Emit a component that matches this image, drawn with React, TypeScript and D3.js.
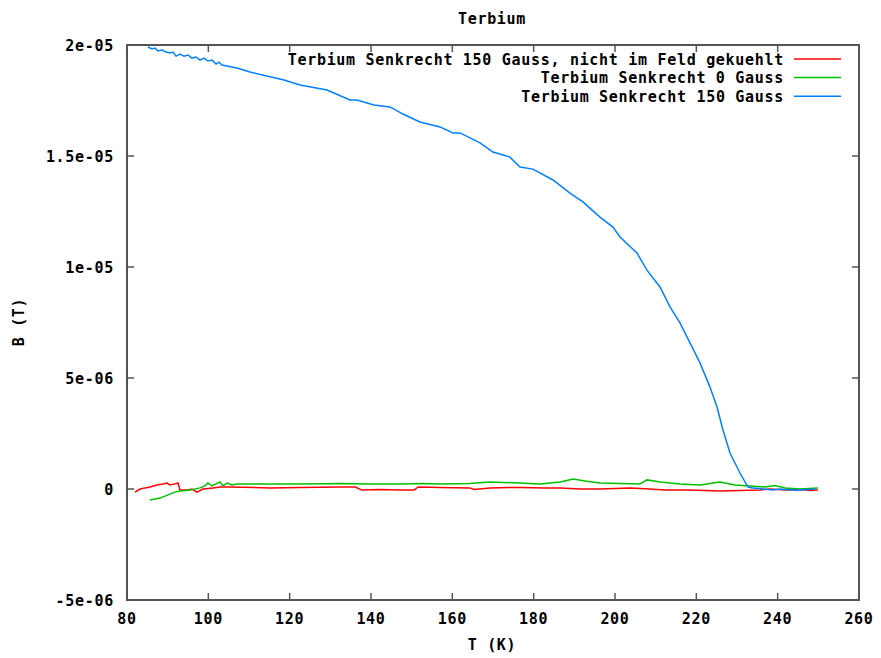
import React from "react";
import * as d3 from "d3";

const title = "Terbium";
const xLabel = "T (K)";
const yLabel = "B (T)";
const xTicks = [80, 100, 120, 140, 160, 180, 200, 220, 240, 260];
const yTicks = [-5e-6, 0, 5e-6, 1e-5, 1.5e-5, 2e-5];
const yTickLabels = ["-5e-06", "0", "5e-06", "1e-05", "1.5e-05", "2e-05"];

const seriesNames = [
  "Terbium Senkrecht 150 Gauss, nicht im Feld gekuehlt",
  "Terbium Senkrecht 0 Gauss",
  "Terbium Senkrecht 150 Gauss",
];
const seriesColors = ["#ff0000", "#00c000", "#0080ff"];

// values in units of 1e-6 T
const redT = [81.97, 83.2, 84.43, 85.66, 87.38, 88.85, 89.84, 90.57, 91.8, 92.54, 93.03, 94.75, 95.98, 97.21, 98.69, 101.15, 102.87, 105.33, 115.16, 122.5, 132.4, 136.1, 137.8, 142.2, 147.1, 150.6, 151.6, 157.0, 164.3, 165.3, 169.3, 176.6, 182.8, 186.5, 191.4, 196.3, 203.7, 208.6, 212.3, 218.4, 222.1, 225.8, 230.7, 235.6, 238.1, 241.8, 245.5, 247.9, 249.9];
const redB = [-0.14, 0.0, 0.05, 0.09, 0.18, 0.23, 0.27, 0.18, 0.23, 0.27, -0.05, -0.05, 0.0, -0.14, 0.0, 0.05, 0.09, 0.09, 0.05, 0.07, 0.09, 0.09, -0.05, -0.02, -0.05, -0.05, 0.09, 0.07, 0.05, -0.02, 0.05, 0.07, 0.05, 0.05, 0.0, 0.0, 0.05, 0.0, -0.05, -0.05, -0.07, -0.09, -0.07, -0.05, 0.0, -0.05, -0.02, -0.07, -0.05];

const greenT = [85.66, 86.88, 88.11, 89.34, 90.57, 91.8, 93.03, 95.49, 97.95, 99.18, 99.92, 100.9, 101.88, 102.87, 103.61, 104.59, 105.82, 107.05, 112.7, 122.54, 132.37, 139.75, 147.1, 152.0, 157.0, 164.3, 169.3, 176.6, 181.5, 186.5, 189.7, 192.6, 196.3, 201.2, 206.1, 207.9, 211.1, 216.0, 220.9, 225.8, 229.5, 233.2, 236.9, 239.3, 241.8, 245.5, 249.9];
const greenB = [-0.5, -0.45, -0.41, -0.32, -0.23, -0.14, -0.09, -0.05, 0.05, 0.14, 0.27, 0.14, 0.23, 0.32, 0.14, 0.27, 0.18, 0.23, 0.23, 0.23, 0.25, 0.23, 0.23, 0.25, 0.23, 0.25, 0.32, 0.27, 0.23, 0.32, 0.45, 0.36, 0.27, 0.25, 0.23, 0.41, 0.32, 0.23, 0.18, 0.32, 0.18, 0.14, 0.09, 0.16, 0.05, 0.0, 0.05];

const blueT = [85.16, 86.15, 86.88, 87.62, 88.61, 89.59, 90.57, 91.31, 92.05, 93.03, 94.02, 95.0, 95.98, 96.97, 97.95, 98.94, 99.92, 100.9, 101.88, 102.62, 103.36, 107.05, 110.24, 118.6, 122.54, 129.18, 134.83, 136.55, 140.73, 144.67, 147.86, 152.04, 156.96, 160.16, 161.88, 166.8, 169.99, 174.17, 176.63, 179.83, 184.75, 188.93, 192.12, 196.3, 199.5, 201.22, 205.4, 207.86, 211.06, 213.52, 215.98, 218.44, 220.9, 223.36, 225.08, 226.55, 228.27, 230.73, 232.7, 233.93, 236.4, 238.8, 240.56, 243.0, 245.5, 249.17];
const blueB = [19.91, 19.82, 19.86, 19.73, 19.77, 19.68, 19.64, 19.68, 19.5, 19.59, 19.5, 19.55, 19.41, 19.46, 19.32, 19.41, 19.28, 19.32, 19.14, 19.23, 19.1, 18.96, 18.78, 18.42, 18.2, 17.97, 17.52, 17.52, 17.3, 17.21, 16.89, 16.53, 16.31, 16.04, 16.04, 15.59, 15.18, 14.95, 14.5, 14.41, 13.92, 13.33, 12.93, 12.25, 11.8, 11.35, 10.63, 9.86, 9.1, 8.2, 7.48, 6.58, 5.68, 4.59, 3.69, 2.66, 1.62, 0.72, 0.09, 0.05, 0.0, -0.05, 0.0, -0.05, -0.05, 0.0];

const seriesT = [redT, greenT, blueT];
const seriesB = [redB, greenB, blueB];

const W = 881;
const H = 658;
const left = 127;
const right = 859;
const top = 45;
const bottom = 600;

const font = "'DejaVu Sans Mono', 'Liberation Mono', monospace";

export default function App() {
  const x = d3.scaleLinear().domain([80, 260]).range([left, right]);
  const y = d3.scaleLinear().domain([-5e-6, 2e-5]).range([bottom, top]);
  const line = d3
    .line<[number, number]>()
    .x((d) => x(d[0]))
    .y((d) => y(d[1] * 1e-6))
    .curve(d3.curveLinear);

  const textStyle: React.CSSProperties = {
    fontFamily: font,
    fontWeight: "bold",
    fontSize: 15,
    letterSpacing: 0.7,
  };
  const axisColor = "#555555";
  const tickLen = 7;

  return (
    <svg
      width={W}
      height={H}
      style={{ position: "absolute", left: 0, top: 0, background: "#fff" }}
    >
      <rect x={0} y={0} width={W} height={H} fill="#fff" />
      <defs>
        <clipPath id="plotclip">
          <rect x={left} y={top} width={right - left} height={bottom - top} />
        </clipPath>
      </defs>
      {xTicks.map((t, i) => (
        <g key={"xt" + i}>
          <line x1={x(t)} x2={x(t)} y1={bottom} y2={bottom - tickLen} stroke={axisColor} strokeWidth={1.5} />
          <line x1={x(t)} x2={x(t)} y1={top} y2={top + tickLen} stroke={axisColor} strokeWidth={1.5} />
          <text x={x(t)} y={623.5} textAnchor="middle" style={textStyle} fill="#000">
            {t}
          </text>
        </g>
      ))}
      {yTicks.map((t, i) => (
        <g key={"yt" + i}>
          <line x1={left} x2={left + tickLen} y1={y(t)} y2={y(t)} stroke={axisColor} strokeWidth={1.5} />
          <line x1={right} x2={right - tickLen} y1={y(t)} y2={y(t)} stroke={axisColor} strokeWidth={1.5} />
          <text x={114} y={y(t) + 5.5} textAnchor="end" style={textStyle} fill="#000">
            {yTickLabels[i]}
          </text>
        </g>
      ))}
      <g clipPath="url(#plotclip)">
        {seriesT.map((ts, si) => {
          const pts: [number, number][] = ts.map((t, k) => [t, seriesB[si][k]]);
          return (
            <path
              key={"s" + si}
              d={line(pts) || ""}
              fill="none"
              stroke={seriesColors[si]}
              strokeWidth={1.5}
              strokeLinejoin="miter"
            />
          );
        })}
      </g>
      <rect x={left} y={top} width={right - left} height={bottom - top} fill="none" stroke={axisColor} strokeWidth={2} />
      {seriesNames.map((n, i) => {
        const cy = 59 + i * 18.6;
        return (
          <g key={"lg" + i}>
            <text x={784} y={cy + 5.5} textAnchor="end" style={textStyle} fill="#000">
              {n}
            </text>
            <line x1={794} x2={841} y1={cy} y2={cy} stroke={seriesColors[i]} strokeWidth={1.5} />
          </g>
        );
      })}
      <text x={492} y={23.5} textAnchor="middle" style={textStyle} fill="#000">
        {title}
      </text>
      <text x={492} y={650} textAnchor="middle" style={textStyle} fill="#000">
        {xLabel}
      </text>
      <text
        x={0}
        y={0}
        transform={`translate(23.5, 322) rotate(-90)`}
        textAnchor="middle"
        style={textStyle}
        fill="#000"
      >
        {yLabel}
      </text>
    </svg>
  );
}
